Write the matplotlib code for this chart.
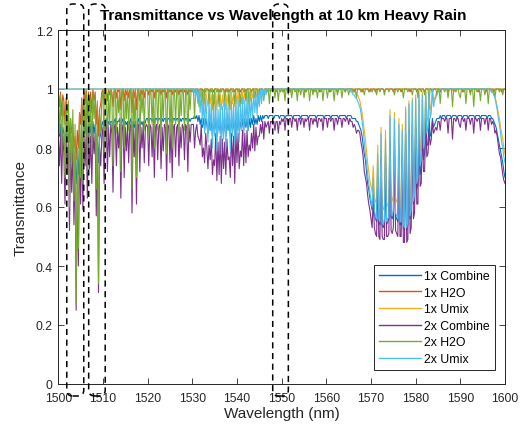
import numpy as np
import matplotlib
matplotlib.use("Agg")
import matplotlib.pyplot as plt
from matplotlib.patches import FancyBboxPatch
from matplotlib.transforms import IdentityTransform

plt.rcParams['font.family'] = ['Liberation Sans', 'DejaVu Sans']

W, H, DPI = 522, 431, 100

title = "Transmittance vs Wavelength at 10 km Heavy Rain"
x_label = "Wavelength (nm)"
y_label = "Transmittance"
series_names = ["1x Combine", "1x H2O", "1x Umix", "2x Combine", "2x H2O", "2x Umix"]
series_colors = ["#0072BD", "#D95319", "#EDB120", "#7E2F8E", "#77AC30", "#4DBEEE"]

x_ticks = list(range(1500, 1601, 10))
y_ticks = [0, 0.2, 0.4, 0.6, 0.8, 1.0, 1.2]
y_tick_labels = ["0", "0.2", "0.4", "0.6", "0.8", "1", "1.2"]

# highlighted wavelength windows (nm)
windows = [(1501.9, 1505.7), (1506.8, 1510.5), (1548.0, 1551.5)]

# Transmittance (%) sampled every 0.25 nm, 1500 ... 1600 nm (401 samples)
combine_1x = [
    88,84,88,81,87,85,78,86,82,85, 73,80,76,78,71,75,68,77,71,82,
    78,86,78,88,85,89,80,88,84,88, 82,89,85,88,78,85,75,83,85,88,      # 1500
    89,85,89,90,86,89,88,89,89,84, 89,90,87,89,89,90,83,89,90,86,
    89,88,89,87,89,90,82,89,87,89, 83,89,90,86,89,88,89,87,89,90,      # 1510
    90,88,90,90,89,90,87,90,90,89, 90,90,88,90,89,90,90,87,90,90,
    89,90,88,90,90,89,90,90,88,90, 89,90,90,89,90,90,88,90,89,90,      # 1520
    90,90,91,90,91,89,91,88,90,87, 90,86,90,88,85,90,86,89,84,89,
    86,90,84,89,86,89,84,89,85,90, 84,89,86,89,84,90,86,89,85,90,      # 1530
    86,90,86,89,86,90,86,90,87,90, 86,90,87,90,88,91,88,90,88,91,
    89,91,89,91,90,91,91,91,90,91, 91,91,91,90,91,91,91,91,90,91,      # 1540
    91,91,91,90,91,91,91,91,91,91, 90,91,91,91,91,91,91,90,91,91,
    91,91,91,91,90,91,91,91,91,91, 91,90,91,91,91,91,91,91,90,91,      # 1550
    91,91,91,91,90,91,91,91,91,91, 91,90,91,91,91,91,91,91,90,91,
    91,91,91,90,90,90,90,89,89,88, 87,86,84,81,78,76,72,68,66,63,      # 1560
    61,59,67,58,56,55,73,55,54,79, 54,53,55,78,54,55,56,84,57,56,
    58,83,57,56,55,81,54,54,80,53, 52,85,52,54,87,56,58,88,61,62,      # 1570
    89,66,68,90,71,73,90,76,78,90, 81,81,90,84,85,90,87,88,89,90,
    90,90,91,90,91,91,91,90,91,91, 91,91,90,91,91,91,91,90,91,91,      # 1580
    91,91,90,91,91,91,91,90,91,91, 91,91,91,90,91,91,91,91,90,91,
    91,91,91,91,90,91,91,91,90,90, 89,88,87,85,83,81,79,77,75,72,      # 1590
    70]

h2o_1x = [
    99,94,99,91,98,96,88,97,92,95, 82,90,85,88,80,84,76,86,80,92,
    88,97,88,99,95,100,90,99,94,99, 92,100,96,99,88,95,84,93,95,99,
    100,95,100,100,96,100,98,100,99,94, 100,100,97,100,99,100,93,100,100,96,
    100,98,100,97,100,100,92,100,97,100, 93,100,100,96,100,98,100,97,100,100,
    100,98,100,100,99,100,97,100,100,99, 100,100,98,100,99,100,100,97,100,100,
    99,100,98,100,100,99,100,100,98,100, 99,100,100,99,100,100,98,100,99,100,
    100,100,99,100,100,100,99,100,100,100, 99,100,100,100,100,99,100,100,100,99,
    100,100,100,100,99,100,100,100,100,99, 100,100,100,99,100,100,100,100,99,100,
    100,100,100,99,100,100,100,100,99,100, 100,100,100,99,100,100,100,100,100,99,
    100,100,100,100,99,100,100,100,100,100, 99,100,100,100,100,99,100,100,100,100,
    100,100,99,100,100,100,100,100,99,100, 100,100,100,100,100,99,100,100,100,100,
    100,99,100,100,100,100,100,100,99,100, 100,100,100,100,99,100,100,100,100,100,
    100,100,100,99,100,100,100,100,100,100, 99,100,100,100,100,100,100,99,100,100,
    100,100,100,100,100,99,100,100,100,100, 100,100,99,100,100,100,100,100,100,99,
    100,100,100,100,99,100,100,100,100,100, 100,100,99,100,100,100,100,100,100,100,
    99,100,100,100,100,100,100,99,100,100, 100,100,100,100,100,99,100,100,100,100,
    100,99,100,100,100,100,100,100,99,100, 100,100,100,100,100,99,100,100,100,100,
    100,100,99,100,100,100,100,100,100,99, 100,100,100,100,99,100,100,100,100,100,
    100,100,99,100,100,100,100,100,100,99, 100,100,100,100,100,100,99,100,100,100,
    100,100,100,99,100,100,100,100,100,100, 99,100,100,100,100,100,100,99,100,100,
    100]

umix_1x = [
    100,100,100,100,100,100,100,100,100,100, 100,100,100,100,100,100,100,100,100,100,
    100,100,100,100,100,100,100,100,100,100, 100,100,100,100,100,100,100,100,100,100,
    100,100,100,100,100,100,100,100,100,100, 100,100,100,100,100,100,100,100,100,100,
    100,100,100,100,100,100,100,100,100,100, 100,100,100,100,100,100,100,100,100,100,
    100,100,100,100,100,100,100,100,100,100, 100,100,100,100,100,100,100,100,100,100,
    100,100,100,100,100,100,100,100,100,100, 100,100,100,100,100,100,100,100,100,100,
    100,100,100,99,100,98,100,97,100,96, 99,95,99,97,94,99,95,98,93,98,
    95,99,93,98,95,98,93,98,94,99, 93,98,95,98,93,99,95,98,94,99,
    95,99,94,98,95,99,95,99,96,99, 95,99,96,99,97,100,97,99,97,100,
    98,100,98,100,99,100,100,100,100,100, 100,100,100,100,100,100,100,100,100,100,
    100,100,100,100,100,100,100,100,100,100, 100,100,100,100,100,100,100,100,100,100,
    100,100,100,100,100,100,100,100,100,100, 100,100,100,100,100,100,100,100,100,100,
    100,100,100,100,100,100,100,100,100,100, 100,100,100,100,100,100,100,100,100,100,
    100,100,100,99,99,99,99,98,98,97, 96,94,92,89,86,83,79,75,72,69,
    67,65,74,64,62,61,81,61,60,87, 60,59,61,86,60,61,62,93,63,62,
    64,92,63,62,61,90,60,60,88,59, 58,94,58,60,96,62,64,97,67,69,
    98,73,75,99,79,81,99,84,86,100, 89,90,100,93,94,100,96,97,98,99,
    99,100,100,100,100,100,100,100,100,100, 100,100,100,100,100,100,100,100,100,100,
    100,100,100,100,100,100,100,100,100,100, 100,100,100,100,100,100,100,100,100,100,
    100,100,100,100,100,100,100,100,99,99, 98,97,96,94,92,90,87,85,83,80,
    78]

combine_2x = [
    84,74,85,68,84,78,61,83,71,84, 52,78,65,81,54,77,25,70,40,80,
    61,84,59,84,74,86,63,85,73,84, 68,86,78,85,57,84,31,80,74,84,
    87,68,87,88,72,87,77,88,85,65, 87,88,74,87,80,88,63,86,88,70,
    87,79,88,75,87,88,58,87,77,88, 61,87,88,72,87,80,88,75,87,88,
    87,74,88,87,77,88,70,87,88,76, 87,88,73,87,79,88,87,69,88,87,
    75,88,70,87,88,77,87,88,74,87, 80,88,87,76,88,87,72,88,82,88,
    88,88,80,86,88,84,83,81,88,77, 80,75,85,80,73,81,76,83,71,76,
    74,85,69,82,71,84,68,83,73,82, 71,83,76,77,70,85,74,84,68,86,
    75,85,73,79,77,86,74,85,75,86, 77,81,79,85,80,88,79,87,81,84,
    84,88,85,89,83,89,87,88,89,85, 89,89,88,89,86,89,89,85,89,88,
    90,89,90,86,90,90,88,90,90,87, 90,90,89,90,86,90,90,88,90,90,
    87,90,89,90,90,86,90,90,88,90, 89,90,87,90,90,89,90,86,90,90,
    90,87,90,90,89,90,90,86,90,90, 88,90,90,90,87,90,90,89,90,90,
    88,90,89,89,87,88,87,85,86,86, 85,82,80,77,72,70,68,64,61,59,
    56,53,63,53,51,50,70,50,49,77, 50,49,49,75,50,50,51,82,52,51,
    53,79,52,51,50,79,50,50,77,48, 48,84,48,49,86,51,53,85,56,58,
    87,61,61,88,67,68,88,72,72,89, 77,78,86,81,83,89,85,86,87,86,
    89,89,86,90,90,90,89,90,90,85, 90,90,90,83,90,90,89,90,90,88,
    87,90,90,89,90,86,90,90,90,88, 90,90,85,90,90,89,90,90,86,90,
    90,90,88,90,90,86,90,90,88,89, 88,85,86,84,81,78,77,74,71,69,
    68]

h2o_2x = [
    97,85,98,78,96,90,70,95,82,96, 60,90,75,93,62,88,27,80,46,92,
    70,96,68,97,85,99,72,98,84,97, 78,99,90,98,66,96,34,92,85,97,
    99,78,99,100,82,99,88,100,97,74, 99,100,85,99,92,100,72,98,100,80,
    99,90,100,86,99,100,66,99,88,100, 70,99,100,82,99,92,100,86,99,100,
    99,84,100,99,88,100,80,99,100,86, 99,100,83,99,90,100,99,78,100,99,
    85,100,80,99,100,88,99,100,84,99, 91,100,99,86,100,99,82,100,93,100,
    99,100,90,100,99,100,94,100,100,99, 92,100,99,100,100,95,100,99,100,91,
    100,100,99,100,94,100,99,100,100,96, 100,99,100,93,100,100,99,100,95,100,
    100,99,100,94,100,100,99,100,96,100, 100,93,100,99,100,100,97,100,100,95,
    100,99,100,100,96,100,100,99,100,95, 100,100,99,100,97,100,100,96,100,99,
    100,99,100,96,100,100,98,100,100,97, 100,100,99,100,96,100,100,98,100,100,
    97,100,99,100,100,96,100,100,98,100, 99,100,97,100,100,99,100,96,100,100,
    100,97,100,100,99,100,100,96,100,100, 98,100,100,100,97,100,100,99,100,100,
    98,100,100,100,99,100,100,97,100,100, 100,99,100,100,98,100,100,100,99,100,
    100,99,100,100,100,98,100,100,99,100, 100,100,98,100,100,100,99,100,100,100,
    100,98,100,100,99,100,100,100,100,97, 100,100,100,99,100,100,100,98,100,100,
    100,100,97,100,100,99,100,100,98,100, 100,100,96,100,100,99,100,100,100,98,
    100,100,95,100,100,100,99,100,100,97, 100,100,100,94,100,100,99,100,100,98,
    97,100,100,99,100,95,100,100,100,98, 100,100,94,100,100,99,100,100,96,100,
    100,100,98,100,100,95,100,100,99,100, 100,97,100,100,100,99,100,100,98,100,
    100]

umix_2x = [
    100,100,100,100,100,100,100,100,100,100, 100,100,100,100,100,100,100,100,100,100,
    100,100,100,100,100,100,100,100,100,100, 100,100,100,100,100,100,100,100,100,100,
    100,100,100,100,100,100,100,100,100,100, 100,100,100,100,100,100,100,100,100,100,
    100,100,100,100,100,100,100,100,100,100, 100,100,100,100,100,100,100,100,100,100,
    100,100,100,100,100,100,100,100,100,100, 100,100,100,100,100,100,100,100,100,100,
    100,100,100,100,100,100,100,100,100,100, 100,100,100,100,100,100,100,100,100,100,
    100,99,100,97,100,95,100,92,99,88, 98,85,97,90,82,96,86,95,80,94,
    84,96,79,93,85,95,78,94,83,96, 80,95,86,94,79,96,84,95,81,97,
    84,96,82,95,86,97,84,96,88,97, 86,98,89,97,90,99,92,98,91,99,
    94,100,95,100,97,100,98,100,100,100, 100,100,100,100,100,100,100,100,100,100,
    100,100,100,100,100,100,100,100,100,100, 100,100,100,100,100,100,100,100,100,100,
    100,100,100,100,100,100,100,100,100,100, 100,100,100,100,100,100,100,100,100,100,
    100,100,100,100,100,100,100,100,100,100, 100,100,100,100,100,100,100,100,100,100,
    100,100,99,99,98,98,97,97,96,95, 94,92,89,86,82,78,75,71,68,65,
    62,60,70,59,57,56,78,56,55,85, 55,54,56,83,55,56,57,91,58,57,
    59,90,58,57,56,88,55,55,86,54, 53,93,53,55,95,57,59,96,62,64,
    97,68,70,98,74,76,98,80,82,99, 85,87,99,90,92,100,94,96,97,98,
    99,99,100,100,100,100,100,100,100,100, 100,100,100,100,100,100,100,100,100,100,
    100,100,100,100,100,100,100,100,100,100, 100,100,100,100,100,100,100,100,100,100,
    100,100,100,100,100,100,100,100,99,99, 98,97,95,93,90,88,85,82,80,77,
    75]

series = [combine_1x, h2o_1x, umix_1x, combine_2x, h2o_2x, umix_2x]

fig = plt.figure(figsize=(W / DPI, H / DPI), dpi=DPI)
fig.patch.set_facecolor("white")
ax_l, ax_r, ax_t, ax_b = 58.3, 505.0, 31.0, 385.0
ax = fig.add_axes([ax_l / W, (H - ax_b) / H, (ax_r - ax_l) / W, (ax_b - ax_t) / H])

for vals, name, col in zip(series, series_names, series_colors):
    y = np.asarray(vals, dtype=float) / 100.0
    x = np.linspace(x_ticks[0], x_ticks[-1], len(y))
    ax.plot(x, y, color=col, lw=0.8, label=name)

ax.set_xlim(x_ticks[0], x_ticks[-1])
ax.set_ylim(0, 1.2)
ax.set_xticks(x_ticks)
ax.set_yticks(y_ticks)
ax.set_yticklabels(y_tick_labels)
ax.tick_params(direction='in', top=True, right=True, length=4, width=0.6,
               colors='#262626', labelsize=8.7)
ax.tick_params(axis='x', pad=5.5)
ax.tick_params(axis='y', pad=4)
for s in ax.spines.values():
    s.set_color('#262626')
    s.set_linewidth(0.7)

fig.text((ax_l + ax_r) / 2 + 2, H - 16, title, ha='center', va='center',
         fontsize=11, fontweight='bold', color='black', transform=IdentityTransform())
fig.text((ax_l + ax_r) / 2, H - 414, x_label, ha='center', va='center',
         fontsize=11, color='#262626', transform=IdentityTransform())
fig.text(21, H - 208, y_label, ha='center', va='center', rotation=90,
         fontsize=11, color='#262626', transform=IdentityTransform())

leg = ax.legend(loc='lower right',
                bbox_to_anchor=((495 - ax_l) / (ax_r - ax_l), (ax_b - 371) / (ax_b - ax_t)),
                borderaxespad=0, fontsize=8.8, frameon=True, fancybox=False,
                edgecolor='#262626', framealpha=1, handlelength=3.4,
                handletextpad=0.3, labelspacing=0.38, borderpad=0.4)
leg.get_frame().set_linewidth(0.7)
for line in leg.get_lines():
    line.set_linewidth(1.0)

# dashed rounded windows, spanning beyond the axes
fig.canvas.draw()
for w0, w1 in windows:
    x0 = ax.transData.transform((w0, 0))[0]
    x1 = ax.transData.transform((w1, 0))[0]
    y0, y1 = H - 397, H - 5
    box = FancyBboxPatch((x0, y0), x1 - x0, y1 - y0,
                         boxstyle="round,pad=0,rounding_size=6",
                         fill=False, ec='black', lw=1.1,
                         linestyle=(0, (4, 3)), transform=IdentityTransform(),
                         zorder=10)
    fig.add_artist(box)

fig.savefig("out.png", dpi=DPI)
